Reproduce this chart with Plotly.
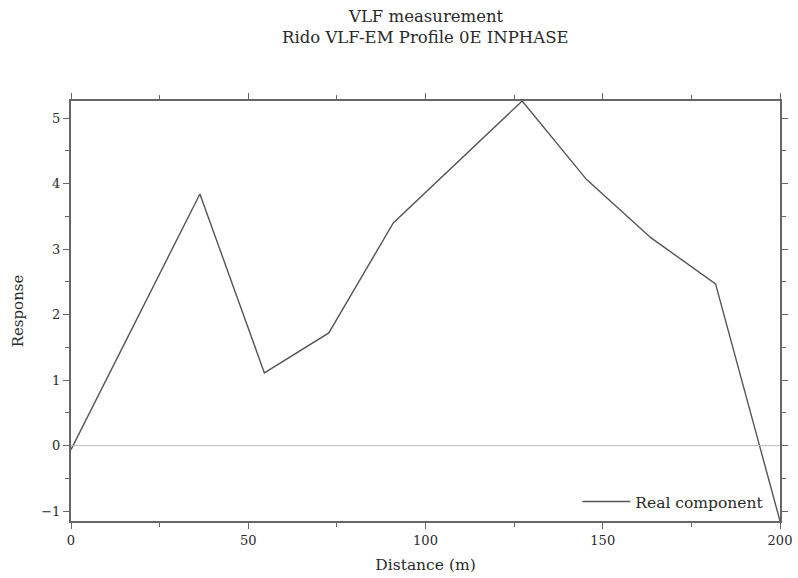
import plotly.graph_objects as go

distance = [0, 18.18, 36.36, 54.55, 72.73, 90.91, 109.09, 127.27, 145.45, 163.64, 181.82, 200]
real_component = [-0.06, 1.9, 3.84, 1.11, 1.72, 3.40, 4.33, 5.26, 4.06, 3.17, 2.47, -1.15]

x_ticks = [0, 50, 100, 150, 200]
y_ticks = [-1, 0, 1, 2, 3, 4, 5]
title_lines = ["VLF measurement", "Rido VLF-EM Profile 0E INPHASE"]

font_family = "DejaVu Serif, serif"
text_color = "#2a2a2a"

fig = go.Figure()
fig.add_trace(go.Scatter(
    x=distance, y=real_component, mode="lines",
    line=dict(color="#555555", width=1.4),
    name="Real component",
))
fig.add_hline(y=0, line=dict(color="#bbbbbb", width=1))

axis_common = dict(
    showgrid=False, zeroline=False, showline=True, linecolor="#666666", linewidth=2,
    mirror="allticks", ticks="outside", ticklen=6, tickwidth=1.2, tickcolor="#666666",
    tickfont=dict(family=font_family, size=13, color=text_color), automargin=False,
)

plot_top, plot_h = 101, 420
for line, ypix in zip(title_lines, [16, 37]):
    fig.add_annotation(
        text=line, xref="paper", yref="paper", x=0.5, xanchor="center",
        y=1 + (plot_top - ypix) / plot_h, yanchor="middle", showarrow=False,
        font=dict(family=font_family, size=16.5, color=text_color),
    )

fig.update_layout(
    width=798, height=578,
    margin=dict(l=71, r=18, t=101, b=57),
    paper_bgcolor="white", plot_bgcolor="white",
    font=dict(family=font_family, color=text_color),
    xaxis=dict(
        range=[0, 200], tickvals=x_ticks,
        title=dict(text="Distance (m)", font=dict(family=font_family, size=15.5), standoff=13),
        minor=dict(dtick=25, ticks="outside", ticklen=4, tickcolor="#666666"),
        **axis_common,
    ),
    yaxis=dict(
        range=[-1.15, 5.26], tickvals=y_ticks,
        title=dict(text="Response", font=dict(family=font_family, size=15), standoff=14),
        minor=dict(dtick=0.5, tick0=0, ticks="outside", ticklen=4, tickcolor="#666666"),
        **axis_common,
    ),
    showlegend=True,
    legend=dict(
        x=0.985, xanchor="right", y=0.005, yanchor="bottom",
        bgcolor="rgba(255,255,255,0)", itemwidth=48,
        font=dict(family=font_family, size=15.5, color=text_color),
    ),
)

fig.write_html("out.html")
